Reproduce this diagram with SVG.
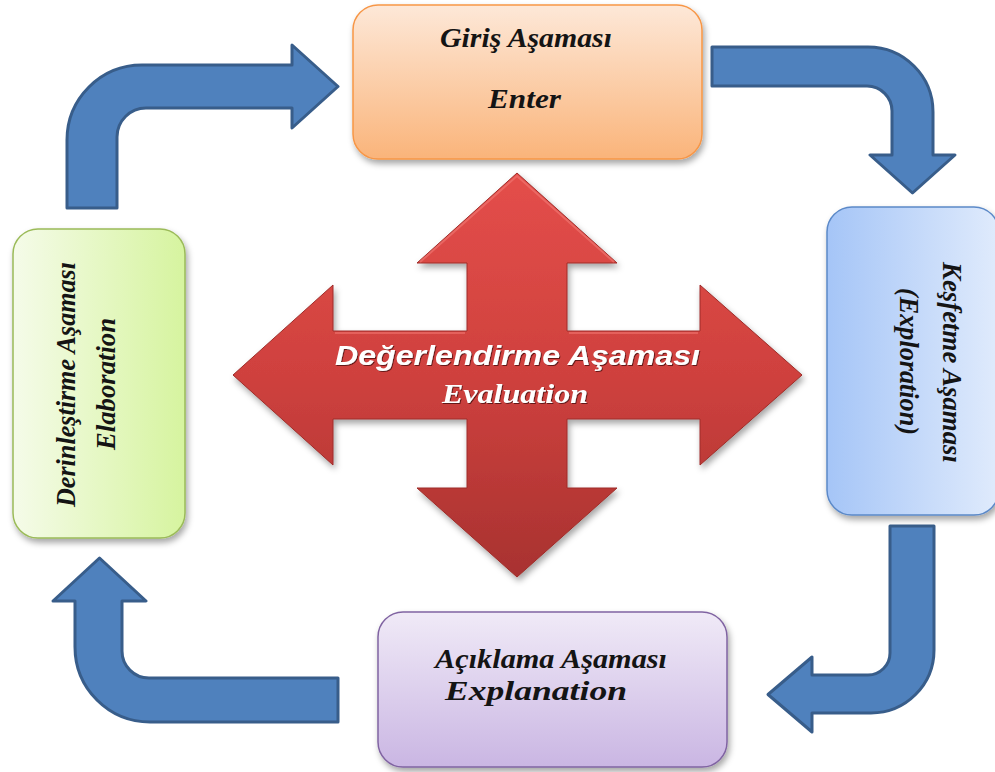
<svg xmlns="http://www.w3.org/2000/svg" width="995" height="772" viewBox="0 0 995 772">
  <defs>
    <linearGradient id="gOrange" x1="0" y1="0" x2="0" y2="1">
      <stop offset="0" stop-color="#fde8d8"/>
      <stop offset="1" stop-color="#fab47a"/>
    </linearGradient>
    <linearGradient id="gBlue" x1="0" y1="0" x2="1" y2="0">
      <stop offset="0" stop-color="#a5c5f7"/>
      <stop offset="1" stop-color="#e0ebfc"/>
    </linearGradient>
    <linearGradient id="gGreen" x1="0" y1="0" x2="1" y2="0">
      <stop offset="0" stop-color="#f5fbe9"/>
      <stop offset="1" stop-color="#d6f49f"/>
    </linearGradient>
    <linearGradient id="gPurple" x1="0" y1="0" x2="0" y2="1">
      <stop offset="0" stop-color="#f0eaf7"/>
      <stop offset="1" stop-color="#cab6e3"/>
    </linearGradient>
    <linearGradient id="gRed" x1="0" y1="0" x2="0" y2="1">
      <stop offset="0" stop-color="#e44e4a"/>
      <stop offset="0.5" stop-color="#cf413e"/>
      <stop offset="1" stop-color="#a83230"/>
    </linearGradient>
    <filter id="shadow" x="-10%" y="-10%" width="130%" height="130%">
      <feDropShadow dx="2" dy="4" stdDeviation="3" flood-color="#000" flood-opacity="0.35"/>
    </filter>
    <filter id="textShadow" x="-5%" y="-20%" width="110%" height="150%">
      <feDropShadow dx="1" dy="1" stdDeviation="0.6" flood-color="#4a0d0b" flood-opacity="0.8"/>
    </filter>
    <style>
      .box { stroke-width: 1.5; filter: url(#shadow); }
      .lbl { font-family: "Liberation Serif", "Times New Roman", serif; font-weight: bold; font-style: italic; fill: #141414; font-size: 27px; }
      .flow { fill: #4f81bd; stroke: #385d8a; stroke-width: 3; stroke-linejoin: round; }
      .evalTitle { font-family: "Liberation Sans", Arial, sans-serif; font-weight: bold; font-style: italic; fill: #ffffff; font-size: 27px; filter: url(#textShadow); }
      .evalSub { font-family: "Liberation Serif", "Times New Roman", serif; font-weight: bold; font-style: italic; fill: #ffffff; font-size: 27px; filter: url(#textShadow); }
    </style>
  </defs>

  <rect width="995" height="772" fill="#ffffff"/>

  <!-- curved flow arrows between the phases -->
  <g id="connectors">
    <path class="flow" d="M67,208 L67,140 A75,75 0 0 1 142,65 L292,65 L292,45 L338,86.5 L292,128 L292,108 L146,108 A29,29 0 0 0 117,137 L117,208 Z"/>
    <path class="flow" d="M712,47 L868,47 A65,65 0 0 1 933,112 L933,155 L955,155 L912.5,193 L870,155 L892,155 L892,111 A25,25 0 0 0 867,86 L712,86 Z"/>
    <path class="flow" d="M890,526 L934,526 L934,650 A63,63 0 0 1 871,713 L812,713 L812,732 L768,694.5 L812,657 L812,675 L868,675 A22,22 0 0 0 890,653 Z"/>
    <path class="flow" d="M338,678 L338,722 L150,722 A75,75 0 0 1 75,647 L75,601 L53,601 L99.5,558 L146,601 L122,601 L122,651 A27,27 0 0 0 149,678 Z"/>
  </g>

  <!-- central four-way arrow -->
  <g id="evaluation">
    <polygon filter="url(#shadow)" fill="url(#gRed)" stroke="#9e2d29" stroke-width="1" stroke-linejoin="round"
      points="517,173 617,263 567,263 567,331 700,331 700,285 802,375 700,465 700,419 567,419 567,488 617,488 517,577 417,488 467,488 467,419 333,419 333,465 233,375 333,285 333,331 467,331 467,263 417,263"/>
    <polyline fill="none" stroke="#f27a75" stroke-width="2" stroke-opacity="0.6"
      points="420,262 517,176 614,262"/>
    <line x1="335" y1="333" x2="465" y2="333" stroke="#f07470" stroke-width="2" stroke-opacity="0.6"/>
    <line x1="569" y1="333" x2="698" y2="333" stroke="#f07470" stroke-width="2" stroke-opacity="0.6"/>
    <text class="evalTitle" x="335" y="365" textLength="365" lengthAdjust="spacingAndGlyphs">Değerlendirme Aşaması</text>
    <text class="evalSub" x="442" y="403" textLength="146" lengthAdjust="spacingAndGlyphs">Evaluation</text>
  </g>

  <g id="enter">
    <rect class="box" x="353" y="5" width="349" height="154" rx="25" fill="url(#gOrange)" stroke="#f79646"/>
    <text class="lbl" x="440" y="47" textLength="172" lengthAdjust="spacingAndGlyphs">Giriş Aşaması</text>
    <text class="lbl" x="488" y="108" textLength="73" lengthAdjust="spacingAndGlyphs">Enter</text>
  </g>

  <g id="exploration">
    <rect class="box" x="827" y="207" width="172" height="308" rx="25" fill="url(#gBlue)" stroke="#5b89c8"/>
    <text class="lbl" transform="translate(943,262) rotate(90)" font-size="28" textLength="201" lengthAdjust="spacingAndGlyphs">Keşfetme Aşaması</text>
    <text class="lbl" transform="translate(900,288) rotate(90)" font-size="28" textLength="147" lengthAdjust="spacingAndGlyphs">(Exploration)</text>
  </g>

  <g id="explanation">
    <rect class="box" x="378" y="612" width="349" height="155" rx="25" fill="url(#gPurple)" stroke="#8064a2"/>
    <text class="lbl" x="435" y="668" textLength="232" lengthAdjust="spacingAndGlyphs">Açıklama Aşaması</text>
    <text class="lbl" x="445" y="700" textLength="182" lengthAdjust="spacingAndGlyphs">Explanation</text>
  </g>

  <g id="elaboration">
    <rect class="box" x="13" y="229" width="172" height="309" rx="25" fill="url(#gGreen)" stroke="#9bbb59"/>
    <text class="lbl" transform="translate(75,507) rotate(-90)" font-size="29" textLength="245" lengthAdjust="spacingAndGlyphs">Derinleştirme Aşaması</text>
    <text class="lbl" transform="translate(115,450) rotate(-90)" font-size="27" textLength="132" lengthAdjust="spacingAndGlyphs">Elaboration</text>
  </g>
</svg>
